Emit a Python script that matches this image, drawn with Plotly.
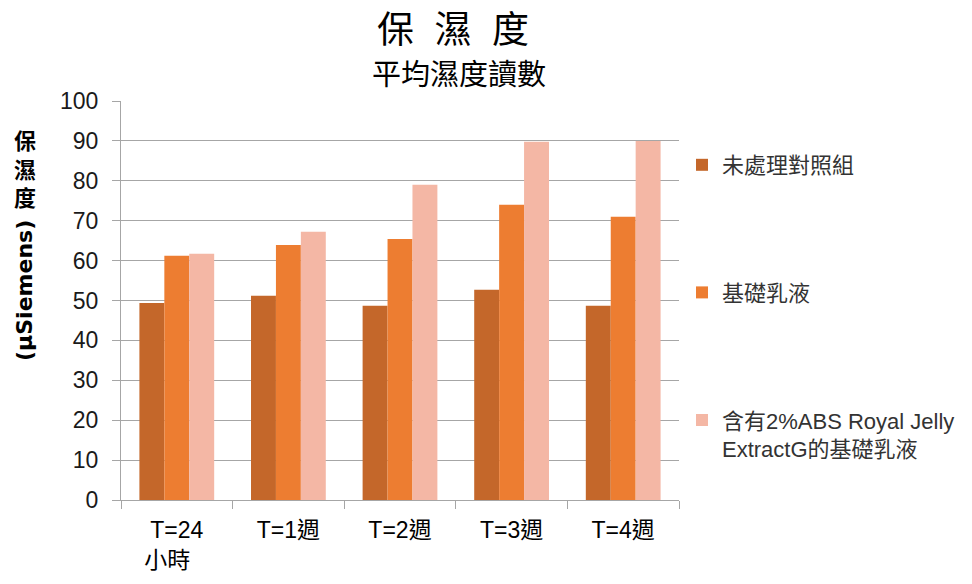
import plotly.graph_objects as go

categories = ["T=24<br>小時&nbsp;&nbsp;&nbsp;", "T=1週", "T=2週", "T=3週", "T=4週"]
series_names = ["未處理對照組", "基礎乳液", "含有2%ABS Royal Jelly<br>ExtractG的基礎乳液"]
control = [49.4, 51.2, 48.7, 52.7, 48.7]
base_lotion = [61.2, 63.9, 65.4, 74.0, 71.0]
royal_jelly = [61.7, 67.2, 79.0, 89.8, 90.0]
colors = ["#C4672A", "#ED7D31", "#F4B7A5"]

FONT = "Liberation Sans, Arial, Noto Sans CJK TC, sans-serif"
CJK = "Liberation Sans, Noto Sans CJK TC, sans-serif"
GRID = "#A6A6A6"

# page has an 8px body margin; figure coordinates = screen - 8
W, H = 964, 576
L, R, T, B = 113, 293, 93, 84
pw, ph = W - L - R, H - T - B

fig = go.Figure()
for i, (name, vals) in enumerate(zip(series_names, [control, base_lotion, royal_jelly])):
    fig.add_trace(go.Bar(
        x=categories, y=vals, name=name, marker_color=colors[i],
        marker_line_width=0, legendgroup=f"g{i}",
    ))


def ann(text, sx, sy, font, angle=0, yanchor="middle"):
    fx, fy = sx - 8, sy - 8
    return dict(text=text, xref="paper", yref="paper",
                x=(fx - L) / pw, y=(H - B - fy) / ph,
                xanchor="center", yanchor=yanchor, showarrow=False,
                textangle=angle, font=font)


fig.update_layout(
    width=W, height=H,
    paper_bgcolor="white", plot_bgcolor="white",
    margin=dict(l=L, r=R, t=T, b=B, autoexpand=False),
    barmode="group", bargap=0.33, bargroupgap=0,
    font=dict(family=FONT, size=23, color="#1a1a1a"),
    showlegend=True,
    legend=dict(
        x=(674 - L) / pw, xanchor="left", y=(H - B - 136) / ph, yanchor="top",
        font=dict(family=FONT, size=22, color="#333333"),
        tracegroupgap=96, valign="top", itemwidth=30,
        bgcolor="rgba(0,0,0,0)",
    ),
    xaxis=dict(
        showline=True, linecolor=GRID, linewidth=1,
        ticks="outside", tickson="boundaries", ticklen=8, tickcolor=GRID,
        tickfont=dict(family=FONT, size=23, color="#000000"),
        ticklabelstandoff=9,
        showgrid=False,
    ),
    yaxis=dict(
        range=[0, 100], dtick=10, tick0=0,
        showline=True, linecolor=GRID, linewidth=1,
        ticks="outside", ticklen=8, tickcolor=GRID,
        showgrid=True, gridcolor=GRID, gridwidth=1,
        zeroline=False,
        ticklabelstandoff=9,
        tickfont=dict(family=FONT, size=23, color="#1a1a1a"),
    ),
    annotations=[
        ann("保&nbsp;&nbsp;濕&nbsp;&nbsp;度", 453, 8, dict(family=CJK, size=37, color="#000000"), yanchor="top"),
        ann("平均濕度讀數", 459, 75, dict(family=CJK, size=29, color="#000000")),
        ann("<b>保<br>濕<br>度</b>", 24.5, 170, dict(family=CJK, size=22, color="#000000")),
        ann("<b>(μSiemens)</b>", 24, 291, dict(family="DejaVu Sans, sans-serif", size=22, color="#000000"), angle=-90),
    ],
)

fig.write_html("out.html")
